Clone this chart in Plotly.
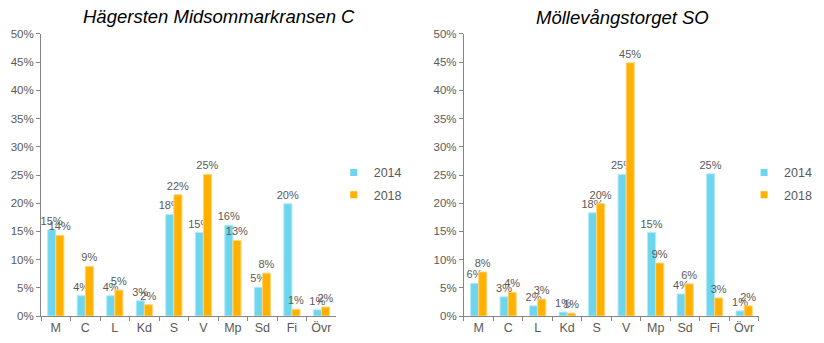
import plotly.graph_objects as go
from plotly.subplots import make_subplots

categories = ["M", "C", "L", "Kd", "S", "V", "Mp", "Sd", "Fi", "Övr"]
years = ["2014", "2018"]

left_title = "Hägersten Midsommarkransen C"
left_2014 = [0.153, 0.036, 0.036, 0.027, 0.180, 0.148, 0.161, 0.051, 0.199, 0.011]
left_2018 = [0.143, 0.088, 0.046, 0.020, 0.215, 0.251, 0.134, 0.076, 0.012, 0.016]

right_title = "Möllevångstorget SO"
right_2014 = [0.058, 0.034, 0.018, 0.007, 0.183, 0.251, 0.148, 0.039, 0.252, 0.009]
right_2018 = [0.078, 0.042, 0.030, 0.005, 0.199, 0.449, 0.094, 0.057, 0.032, 0.018]

y_ticks = [i / 100 for i in range(0, 51, 5)]

colors = {"2014": "#6DD5ED", "2018": "#FFB000"}
edges = {"2014": "#B5EAF7", "2018": "#FFD77A"}
FONT = "Liberation Sans, Arial, sans-serif"
GREY = "#595959"

fig = make_subplots(rows=1, cols=2)

for col, (v14, v18) in enumerate([(left_2014, left_2018), (right_2014, right_2018)], start=1):
    for yr, vals in zip(years, [v14, v18]):
        fig.add_trace(go.Bar(
            x=categories, y=vals, name=yr,
            marker=dict(color=colors[yr], line=dict(color=edges[yr], width=1)),
            texttemplate="%{y:.0%}", textposition="outside", constraintext="none",
            textfont=dict(family=FONT, size=11, color=GREY),
            cliponaxis=False, showlegend=False,
        ), row=1, col=col)
    # legend entries with small square symbols
    for yr in years:
        fig.add_trace(go.Scatter(
            x=[None], y=[None], mode="markers", name=yr, legendgroup=yr,
            marker=dict(symbol="square", size=7, color=colors[yr]),
            legend="legend" if col == 1 else "legend2",
        ), row=1, col=col)

ydom = [0.0787, 0.9009]
legend_common = dict(yanchor="top", xanchor="left",
                     font=dict(family=FONT, size=12.5, color=GREY),
                     itemwidth=30, tracegroupgap=3, traceorder="grouped",
                     bgcolor="rgba(0,0,0,0)")
fig.update_layout(
    width=824, height=343,
    margin=dict(l=0, r=0, t=0, b=0, autoexpand=False),
    paper_bgcolor="white", plot_bgcolor="white",
    barmode="group", bargap=0.45, bargroupgap=0.0,
    font=dict(family=FONT, color=GREY),
    xaxis=dict(domain=[0.0498, 0.408]),
    xaxis2=dict(domain=[0.563, 0.921]),
    yaxis=dict(domain=ydom),
    yaxis2=dict(domain=ydom),
    legend=dict(x=0.405, y=0.54, **legend_common),
    legend2=dict(x=0.903, y=0.54, **legend_common),
    annotations=[
        dict(text="<i>" + left_title + "</i>", x=0.266, y=1 - 16 / 343, xref="paper", yref="paper",
             showarrow=False, font=dict(family=FONT, size=18.5, color="black"),
             xanchor="center", yanchor="middle"),
        dict(text="<i>" + right_title + "</i>", x=0.755, y=1 - 17 / 343, xref="paper", yref="paper",
             showarrow=False, font=dict(family=FONT, size=18.5, color="black"),
             xanchor="center", yanchor="middle"),
    ],
)

fig.update_xaxes(showline=True, linecolor="#868686", linewidth=1, automargin=False,
                 ticks="outside", tickson="boundaries", ticklen=4, tickcolor="#868686",
                 tickfont=dict(family=FONT, size=12.5, color=GREY), showgrid=False)
fig.update_yaxes(range=[0, 0.5], tickvals=y_ticks, tickformat=".0%", automargin=False,
                 showline=True, linecolor="#868686", linewidth=1,
                 ticks="outside", ticklen=4, tickcolor="#868686",
                 tickfont=dict(family=FONT, size=11.5, color=GREY),
                 showgrid=False, zeroline=False)

fig.write_html("out.html")
